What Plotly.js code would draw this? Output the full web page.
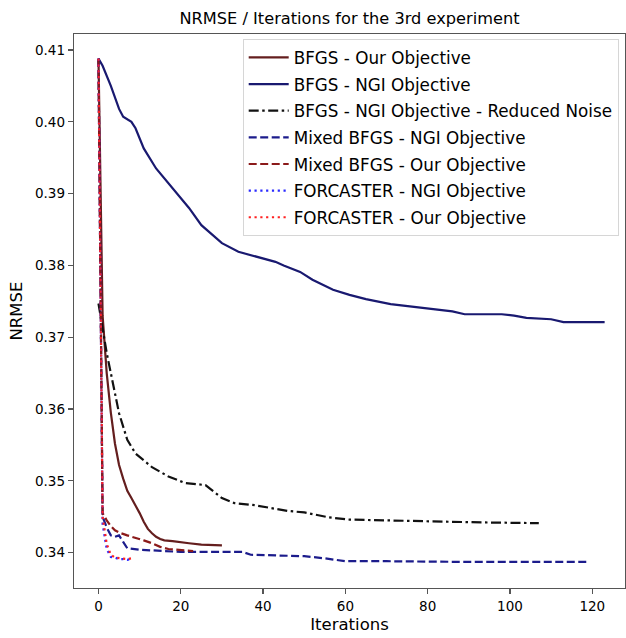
<!DOCTYPE html>
<html>
<head>
<meta charset="utf-8">
<script src="https://cdn.plot.ly/plotly-3.0.1.min.js"></script>
<style>html,body{margin:0;padding:0;background:#fff;}#chart{width:626px;height:638px;}</style>
</head>
<body>
<div id="chart"></div>
<script>
// ---- data ----
const bfgsOurX = [0,1,2,3,4,5,6,7,8,9,10,11,12,13,14,15,16,18,20,22,25,28,30];
const bfgsOurY = [0.4088,0.3730,0.3650,0.3595,0.3552,0.3522,0.3503,0.3486,0.3476,0.3466,0.3455,0.3443,0.3433,0.3427,0.3422,0.3419,0.3417,0.3416,0.3414,0.3413,0.3411,0.3410,0.3410];

const bfgsNgiX = [0,1,3,5,6,8,9,11,14,18,22,25,30,34,40,43,45,49,52,57,61,65,71,76,81,86,89,98,101,104,110,113,123];
const bfgsNgiY = [0.4088,0.4078,0.4050,0.4018,0.4007,0.4000,0.3991,0.3963,0.3935,0.3907,0.3880,0.3856,0.3831,0.3819,0.3810,0.3805,0.3800,0.3791,0.3780,0.3766,0.3759,0.3753,0.3746,0.3743,0.3739,0.3736,0.3732,0.3732,0.3730,0.3727,0.3725,0.3721,0.3721];

const reducedX = [0,1,2,5,7,9,13,17,21,26,28,30,33,38,42,46,50,54,56,61,73,85,94,107];
const reducedY = [0.3747,0.3715,0.3678,0.3594,0.3557,0.3538,0.3519,0.3506,0.3497,0.3494,0.3485,0.3476,0.3469,0.3466,0.3462,0.3458,0.3456,0.3452,0.3449,0.3446,0.3445,0.3443,0.3442,0.3441];

const mixedNgiX = [0,1,2,3,4,5,6,7,10,15,20,30,35,37,45,50,55,58,60,70,80,90,100,110,119];
const mixedNgiY = [0.4088,0.3450,0.3435,0.3424,0.3422,0.3424,0.3415,0.3406,0.3404,0.3402,0.3401,0.3401,0.3401,0.3397,0.3396,0.3395,0.3392,0.3389,0.3388,0.3388,0.3387,0.3387,0.3387,0.3387,0.3387];

const mixedOurX = [0,1,2,3,4,5,7,9,11,13,15,17,19,21,23];
const mixedOurY = [0.4088,0.3455,0.3445,0.3437,0.3431,0.3428,0.3424,0.3421,0.3417,0.3413,0.3408,0.3405,0.3404,0.3403,0.3402];

const forcNgiX = [0,1,2,3,4,5,6,7,8];
const forcNgiY = [0.4088,0.3440,0.3405,0.3394,0.3393,0.3391,0.3391,0.3390,0.3391];

const forcOurX = [0,1,2,3,4,5,6,7,8];
const forcOurY = [0.4088,0.3450,0.3412,0.3397,0.3393,0.3392,0.3391,0.3391,0.3392];

const names = [
  'BFGS - Our Objective',
  'BFGS - NGI Objective',
  'BFGS - NGI Objective - Reduced Noise',
  'Mixed BFGS - NGI Objective',
  'Mixed BFGS - Our Objective',
  'FORCASTER - NGI Objective',
  'FORCASTER - Our Objective'
];
const yTicks = [0.34,0.35,0.36,0.37,0.38,0.39,0.40,0.41];
const xTicks = [0,20,40,60,80,100,120];

// ---- styles ----
const F = '"DejaVu Sans", sans-serif';
const styles = [
  {color:'#641e1e', width:2.2, dash:'solid'},
  {color:'#191970', width:2.2, dash:'solid'},
  {color:'#111111', width:2.2, dash:'10px,3.5px,2.5px,3.5px'},
  {color:'#1c1c8c', width:2.2, dash:'8px,3.5px'},
  {color:'#8b1a1a', width:2.2, dash:'8px,3.5px'},
  {color:'#2a2aff', width:2.2, dash:'2.2px,3.6px'},
  {color:'#ff2020', width:2.2, dash:'2.2px,3.6px'}
];
const xs = [bfgsOurX,bfgsNgiX,reducedX,mixedNgiX,mixedOurX,forcNgiX,forcOurX];
const ys = [bfgsOurY,bfgsNgiY,reducedY,mixedNgiY,mixedOurY,forcNgiY,forcOurY];

const traces = names.map((n,i)=>({
  type:'scatter', mode:'lines', name:n, x:xs[i], y:ys[i],
  line:styles[i], legendgroup:'g'+i, hoverinfo:'skip'
}));

const W=626, H=638, L=74, R=1, T=34, B=50;
const layout = {
  width:W, height:H,
  margin:{l:L, r:R, t:T, b:B},
  paper_bgcolor:'#fff', plot_bgcolor:'#fff',
  font:{family:F, color:'#000', size:13.5},
  title:{text:'NRMSE / Iterations for the 3rd experiment', font:{family:F, size:16.2, color:'#000'},
         x:0.5, xref:'paper', xanchor:'center', y:1-18/H, yref:'container', yanchor:'middle'},
  xaxis:{range:[-5.95,127.95], tickvals:xTicks, ticktext:xTicks.map(String),
         showgrid:false, zeroline:false, showline:true, mirror:true, linecolor:'#555', linewidth:1.3,
         ticks:'outside', ticklen:5, tickcolor:'#555', tickwidth:1.2,
         tickfont:{family:F, size:13.5, color:'#000'},
         title:{text:'Iterations', font:{family:F, size:16.5, color:'#000'}, standoff:6}},
  yaxis:{range:[0.33507,0.41223], tickvals:yTicks, ticktext:yTicks.map(v=>v.toFixed(2)),
         showgrid:false, zeroline:false, showline:true, mirror:true, linecolor:'#555', linewidth:1.3,
         ticks:'outside', ticklen:5, tickcolor:'#555', tickwidth:1.2,
         tickfont:{family:F, size:13.5, color:'#000'},
         title:{text:'NRMSE', font:{family:F, size:16.5, color:'#000'}, standoff:8}},
  showlegend:true,
  legend:{x:(242.7-L)/(W-L-R), y:(H-B-39)/(H-T-B), xanchor:'left', yanchor:'top',
          bgcolor:'rgba(255,255,255,0.85)', bordercolor:'#d6d6d6', borderwidth:1,
          font:{family:F, size:16.8, color:'#000'}, traceorder:'grouped', tracegroupgap:1.8,
          itemwidth:40}
};

Plotly.newPlot('chart', traces, layout, {staticPlot:true, displayModeBar:false});
</script>
</body>
</html>
